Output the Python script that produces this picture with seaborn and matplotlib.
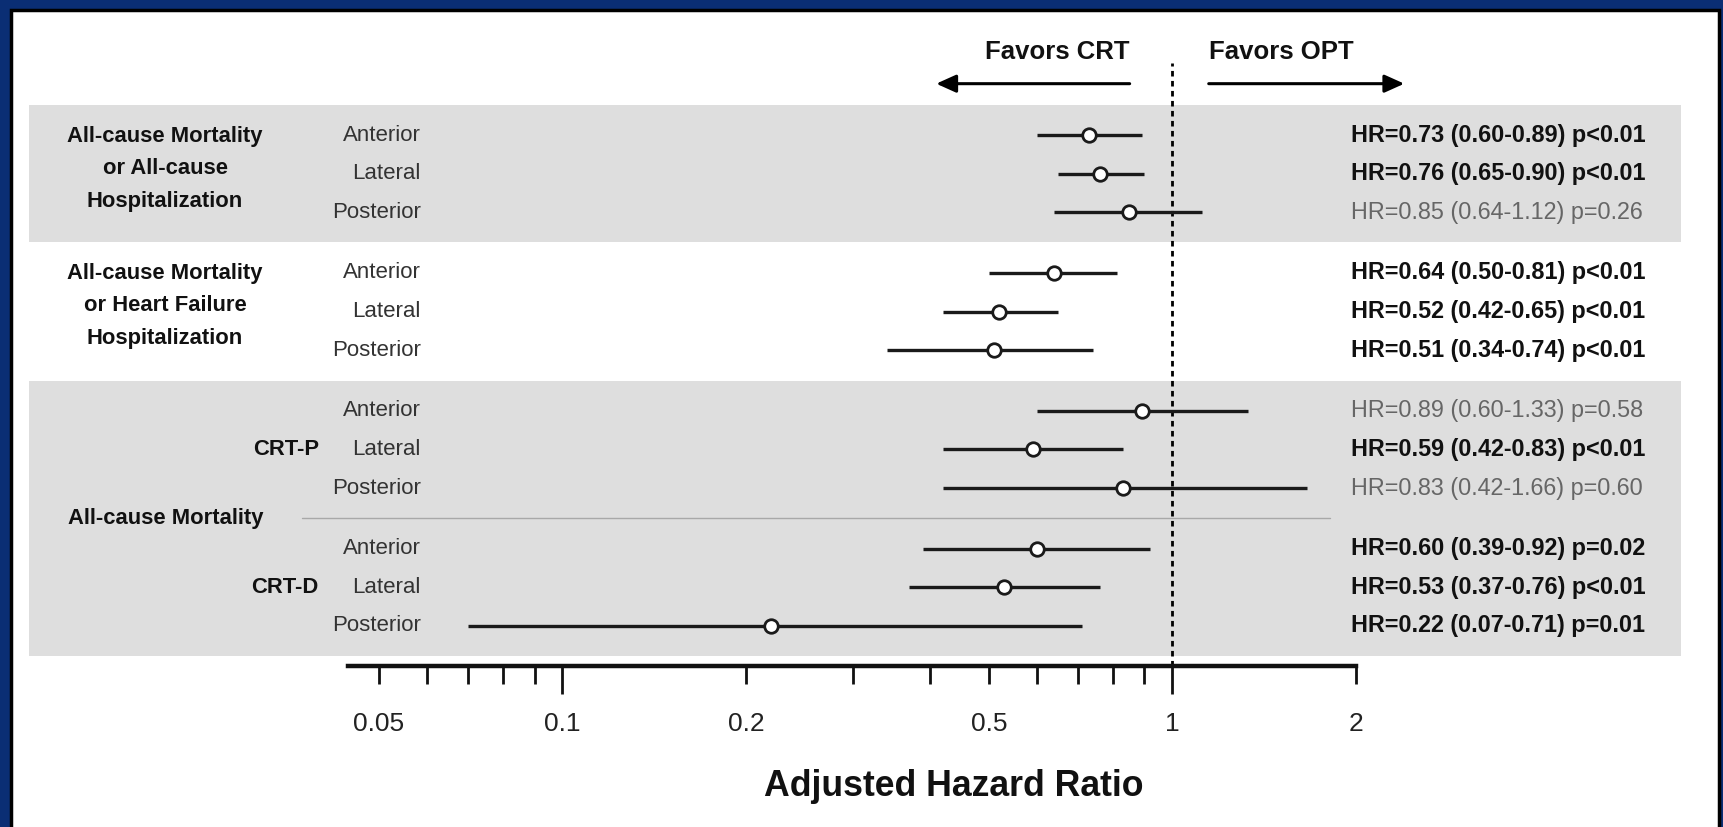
import numpy as np
import pandas as pd
import matplotlib
matplotlib.use("Agg")
import matplotlib.pyplot as plt
from matplotlib.patches import Rectangle
from matplotlib import font_manager
import seaborn as sns

# ---------------- data ----------------
outcome_labels = ["All-cause Mortality\nor All-cause\nHospitalization",
                  "All-cause Mortality\nor Heart Failure\nHospitalization",
                  "All-cause Mortality"]
device_labels = ["CRT-P", "CRT-D"]
sites = ["Anterior", "Lateral", "Posterior"] * 4
block = [0, 0, 0, 1, 1, 1, 2, 2, 2, 3, 3, 3]
hr = [0.73, 0.76, 0.85, 0.64, 0.52, 0.51, 0.89, 0.59, 0.83, 0.60, 0.53, 0.22]
ci_lo = [0.60, 0.65, 0.64, 0.50, 0.42, 0.34, 0.60, 0.42, 0.42, 0.39, 0.37, 0.07]
ci_hi = [0.89, 0.90, 1.12, 0.81, 0.65, 0.74, 1.33, 0.83, 1.66, 0.92, 0.76, 0.71]
pvals = ["p<0.01", "p<0.01", "p=0.26", "p<0.01", "p<0.01", "p<0.01",
         "p=0.58", "p<0.01", "p=0.60", "p=0.02", "p<0.01", "p=0.01"]
significant = [True, True, False, True, True, True, False, True, False, True, True, True]
tick_values = [0.05, 0.1, 0.2, 0.5, 1, 2]
tick_labels = ["0.05", "0.1", "0.2", "0.5", "1", "2"]
xlabel = "Adjusted Hazard Ratio"
favors_left = "Favors CRT"
favors_right = "Favors OPT"

# ---------------- style ----------------
sns.set_theme(style="white")
names = {f.name for f in font_manager.fontManager.ttflist}
FONT = [n for n in ["Liberation Sans Narrow", "Liberation Sans", "DejaVu Sans"] if n in names]
plt.rcParams["font.family"] = FONT

GAP = 0.571
ypos = [i + GAP * b for i, b in enumerate(block)]
df = pd.DataFrame({"site": sites, "hr": hr, "lo": ci_lo, "hi": ci_hi,
                   "p": pvals, "sig": significant, "y": ypos, "block": block})

NAVY = "#0a2e74"
fig = plt.figure(figsize=(17.23, 8.27), dpi=100, facecolor=NAVY)
# inner white panel
panel = Rectangle((11 / 1723, -0.01), (1719 - 11) / 1723, (827 - 10) / 827 + 0.01,
                  transform=fig.transFigure, facecolor="white",
                  edgecolor="black", linewidth=2.5, zorder=-10)
fig.patches.append(panel)

ax = fig.add_axes([348 / 1723, 1 - 666 / 827, (1356 - 348) / 1723, (666 - 62.6) / 827])
ax.set_zorder(5)
ax.set_facecolor("none")
ax.set_xscale("log")
ax.set_xlim(0.0445, 2)
ax.set_ylim(13.75, -1.876)

# shaded bands
BAND = "#dedede"
for b0, b1 in [(0, 0), (2, 3)]:
    ys = df.loc[df["block"].between(b0, b1), "y"]
    span = ax.axhspan(ys.min() - 0.77, ys.max() + 0.77, xmin=-0.316, xmax=1.3224,
                      facecolor=BAND, edgecolor="none", zorder=0)
    span.set_clip_on(False)

ytrans = ax.get_yaxis_transform()
# separator line in last band
sep_y = (df.loc[8, "y"] + df.loc[9, "y"]) / 2
ax.plot([-0.0456, 0.974], [sep_y, sep_y], transform=ytrans, color="#a8a8a8",
        lw=1.0, clip_on=False, zorder=1)

# reference line
ax.axvline(1, color="black", lw=2.0, ls=(0, (2, 1.6)), zorder=2)

# confidence intervals
ax.hlines(df["y"], df["lo"], df["hi"], color="#1a1a1a", lw=2.4, zorder=3)
sns.scatterplot(data=df, x="hr", y="y", ax=ax, s=95, color="white",
                edgecolor="#1a1a1a", linewidth=2.0, zorder=4, legend=False)
ax.set_xlabel("")
ax.set_ylabel("")

# row labels and HR text
for _, r in df.iterrows():
    ax.text(0.0724, r["y"], r["site"], transform=ytrans, ha="right", va="center",
            fontsize=16, color="#333333", clip_on=False)
    txt = f"HR={r['hr']:.2f} ({r['lo']:.2f}-{r['hi']:.2f}) {r['p']}"
    ax.text(0.9947, r["y"], txt, transform=ytrans, ha="left", va="center",
            fontsize=16.8, fontweight="bold" if r["sig"] else "normal",
            color="#111111" if r["sig"] else "#666666", clip_on=False)

# group labels
g0 = df.loc[df["block"] == 0, "y"].mean() - 0.13
g1 = df.loc[df["block"] == 1, "y"].mean() - 0.15
for g, lab in [(g0, outcome_labels[0]), (g1, outcome_labels[1])]:
    ax.text(-0.1815, g, lab, transform=ytrans, ha="center", va="center",
            fontsize=15.8, fontweight="bold", linespacing=1.72, color="#111111")
ax.text(-0.1806, sep_y, outcome_labels[2], transform=ytrans, ha="center", va="center",
        fontsize=15.8, fontweight="bold", color="#111111")
ax.text(-0.0291, df.loc[7, "y"], device_labels[0], transform=ytrans, ha="right",
        va="center", fontsize=15.8, fontweight="bold", color="#111111")
ax.text(-0.0291, df.loc[10, "y"], device_labels[1], transform=ytrans, ha="right",
        va="center", fontsize=15.8, fontweight="bold", color="#111111")

# favors arrows
arrow_y = -1.33
ax.annotate("", xy=(0.41, arrow_y), xytext=(0.851, arrow_y),
            arrowprops=dict(arrowstyle="-|>,head_length=1.0,head_width=0.45",
                            color="black", lw=2.2, shrinkA=0, shrinkB=0),
            annotation_clip=False)
ax.annotate("", xy=(2.40, arrow_y), xytext=(1.147, arrow_y),
            arrowprops=dict(arrowstyle="-|>,head_length=1.0,head_width=0.45",
                            color="black", lw=2.2, shrinkA=0, shrinkB=0),
            annotation_clip=False)
ax.text(0.851, -2.16, favors_left, ha="right", va="center", fontsize=18.5,
        fontweight="bold", color="#111111", clip_on=False)
ax.text(1.147, -2.16, favors_right, ha="left", va="center", fontsize=18.5,
        fontweight="bold", color="#111111", clip_on=False)

# x axis
for s in ["top", "left", "right"]:
    ax.spines[s].set_visible(False)
ax.spines["bottom"].set_linewidth(3.2)
ax.spines["bottom"].set_color("#111111")
ax.set_yticks([])
major = [0.1, 1]
minor = [0.05, 0.06, 0.07, 0.08, 0.09, 0.2, 0.3, 0.4, 0.5, 0.6, 0.7, 0.8, 0.9, 2]
ax.set_xticks(major)
ax.set_xticklabels([tick_labels[tick_values.index(v)] for v in major])
ax.set_xticks(minor, minor=True)
ax.set_xticklabels([tick_labels[tick_values.index(v)] if v in tick_values else ""
                    for v in minor], minor=True)
ax.tick_params(axis="x", which="major", direction="out", length=20, width=2.0,
               pad=13, labelsize=19, colors="#111111", bottom=True)
ax.tick_params(axis="x", which="minor", direction="out", length=13, width=2.0,
               pad=20, labelsize=19, colors="#111111", bottom=True)
for lab in ax.get_xticklabels() + ax.get_xticklabels(minor=True):
    lab.set_color("#222222")

fig.text(954 / 1723, 1 - 786 / 827, xlabel, ha="center", va="center",
         fontsize=25.7, fontweight="bold", color="#111111")

fig.savefig("out.png", dpi=100, facecolor=NAVY)
